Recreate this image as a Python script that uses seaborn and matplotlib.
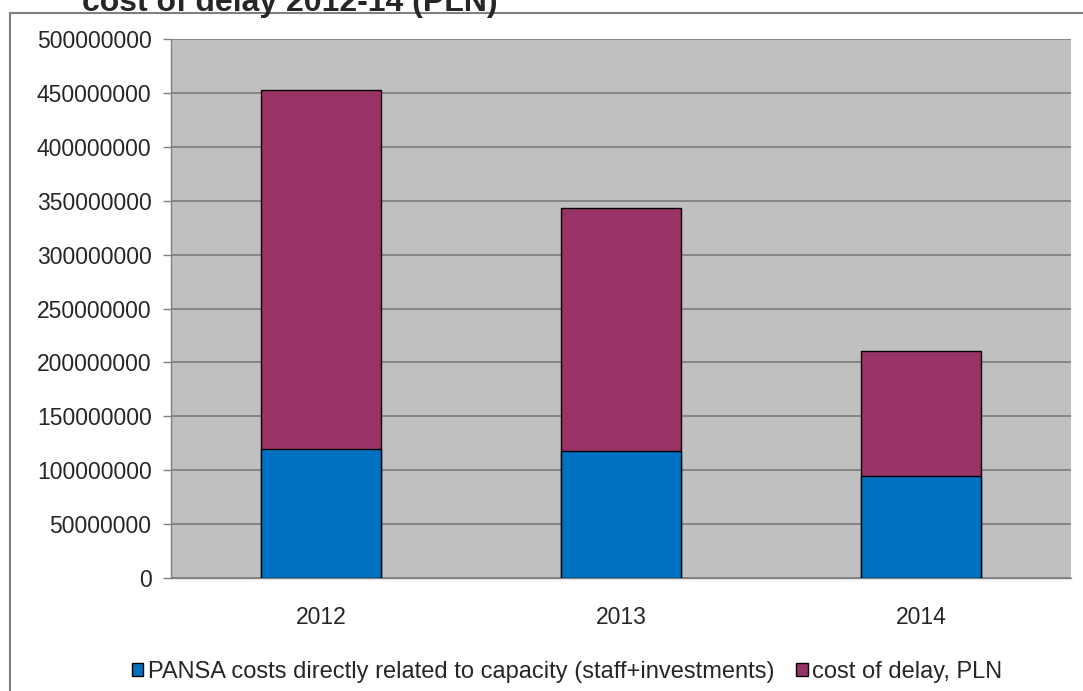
import matplotlib
matplotlib.use("Agg")
import matplotlib.pyplot as plt
import seaborn as sns
import pandas as pd
from matplotlib.patches import Patch, Rectangle

years = ["2012", "2013", "2014"]
pansa_costs = [119.5e6, 117.5e6, 95e6]
delay_costs = [333.5e6, 226e6, 116e6]
yticks = [0, 50000000, 100000000, 150000000, 200000000, 250000000,
          300000000, 350000000, 400000000, 450000000, 500000000]
series_names = ["PANSA costs directly related to capacity (staff+investments)",
                "cost of delay, PLN"]
title = "cost of delay 2012-14 (PLN)"

blue = "#0070C0"
purple = "#993366"

sns.set_style("white")
plt.rcParams['font.family'] = ['Liberation Sans', 'DejaVu Sans']

df = pd.DataFrame({"year": years, "pansa": pansa_costs, "delay": delay_costs})
df["total"] = df["pansa"] + df["delay"]

fig = plt.figure(figsize=(10.83, 6.91), dpi=100)
ax = fig.add_axes([171/1083, 1 - 578/691, (1071-171)/1083, (578-39)/691])

# outer frame
fig.patches.append(Rectangle((10/1083, -0.1), 1.2, 1 - 13/691 + 0.1,
                             transform=fig.transFigure, fill=False,
                             edgecolor="#808080", linewidth=1.5, zorder=0))

ax.set_facecolor("#C0C0C0")
sns.barplot(data=df, x="year", y="total", color=purple, saturation=1,
            width=0.4, edgecolor="black", linewidth=1, ax=ax, zorder=3)
sns.barplot(data=df, x="year", y="pansa", color=blue, saturation=1,
            width=0.4, edgecolor="black", linewidth=1, ax=ax, zorder=4)

ax.set_ylim(0, 500000000)
ax.set_xlim(-0.5, 2.5)
ax.set_yticks(yticks)
ax.set_yticklabels([str(v) for v in yticks], fontsize=16.5)
ax.yaxis.grid(True, color="#808080", linewidth=1.3, zorder=1)
ax.set_axisbelow(True)
ax.set_xlabel("")
ax.set_ylabel("")
ax.tick_params(axis="x", which="major", length=0, labelsize=16.5, pad=20)
ax.set_xticks([0.5, 1.5, 2.5], minor=True)
ax.tick_params(axis="x", which="minor", length=6, color="#808080", width=1)
ax.tick_params(axis="y", which="major", length=6, color="#808080", width=1, pad=8,
               left=True)
for side in ["top", "right"]:
    ax.spines[side].set_visible(False)
for side in ["left", "bottom"]:
    ax.spines[side].set_color("#808080")
    ax.spines[side].set_linewidth(1)

fig.text(82/1083, 1 - 11/691, title, fontsize=23, fontweight="bold",
         ha="left", va="baseline")

handles = [Patch(facecolor=blue, edgecolor="black", linewidth=1),
           Patch(facecolor=purple, edgecolor="black", linewidth=1)]
fig.legend(handles, series_names, loc="center", bbox_to_anchor=(567/1083, 1 - 672/691),
           ncol=2, frameon=False, fontsize=17, handlelength=0.5, handleheight=0.5,
           handletextpad=0.2, columnspacing=0.9)

fig.savefig("out.png", dpi=100)
